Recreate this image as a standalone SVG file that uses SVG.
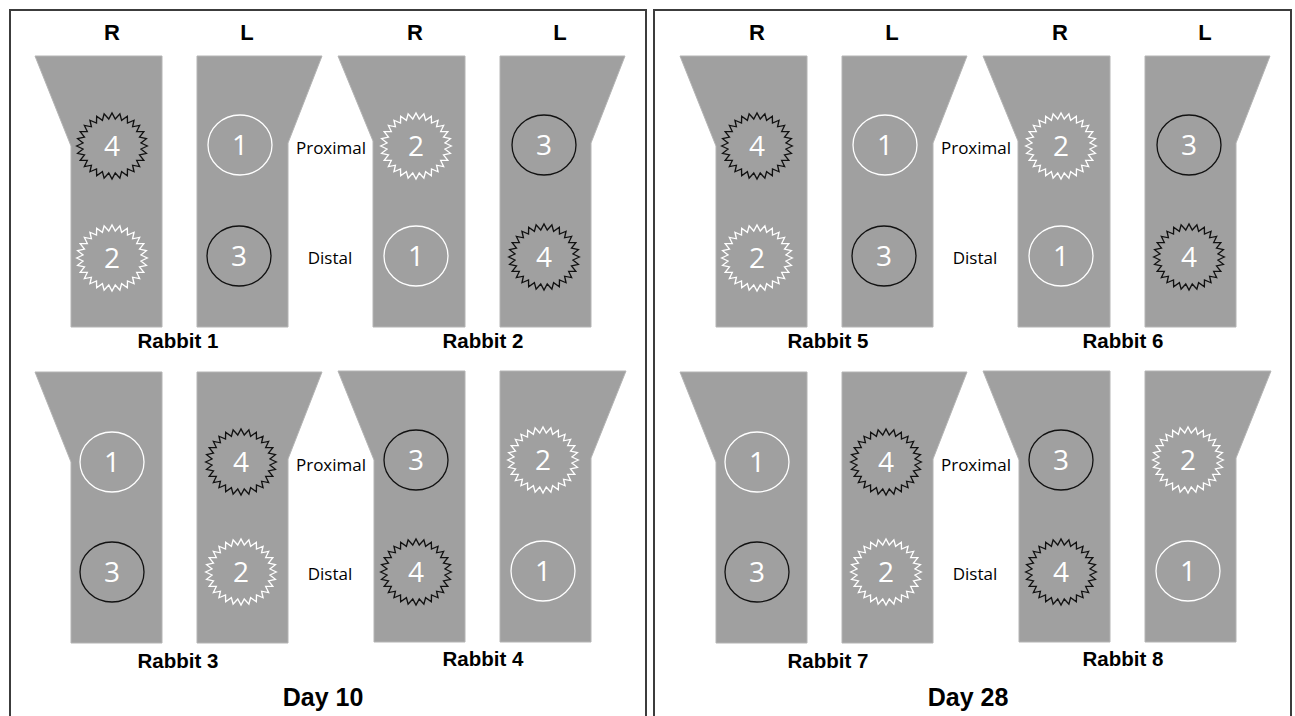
<svg xmlns="http://www.w3.org/2000/svg" xmlns:xlink="http://www.w3.org/1999/xlink" width="1295" height="716" viewBox="0 0 1295 716">
<style>
.bone{fill:#a0a0a0;stroke:#b4b4b4;stroke-width:1}
.panel{fill:none;stroke:#3c3c3c;stroke-width:2}
.cw{fill:none;stroke:#ffffff;stroke-width:1.3}
.ck{fill:none;stroke:#111111;stroke-width:1.3}
.num{font-family:"Open Sans","Liberation Sans",sans-serif;font-size:28px;fill:#ffffff;text-anchor:middle}
.side{font-family:"Liberation Sans",Arial,sans-serif;font-weight:bold;font-size:22px;fill:#000;text-anchor:middle}
.lbl{font-family:"Open Sans","Liberation Sans",sans-serif;font-size:17px;fill:#000;text-anchor:middle}
.rab{font-family:"Liberation Sans",Arial,sans-serif;font-weight:bold;font-size:20.5px;fill:#000;text-anchor:middle}
.day{font-family:"Liberation Sans",Arial,sans-serif;font-weight:bold;font-size:25px;fill:#000;text-anchor:middle}
</style>
<defs>
<path id="star" d="M34,0 L27.82,3.13 L33.15,7.57 L26.43,9.25 L30.63,14.75 L23.71,14.9 L26.58,21.2 L19.8,19.8 L21.2,26.58 L14.9,23.71 L14.75,30.63 L9.25,26.43 L7.57,33.15 L3.13,27.82 L0,34 L-3.13,27.82 L-7.57,33.15 L-9.25,26.43 L-14.75,30.63 L-14.9,23.71 L-21.2,26.58 L-19.8,19.8 L-26.58,21.2 L-23.71,14.9 L-30.63,14.75 L-26.43,9.25 L-33.15,7.57 L-27.82,3.13 L-34,0 L-27.82,-3.13 L-33.15,-7.57 L-26.43,-9.25 L-30.63,-14.75 L-23.71,-14.9 L-26.58,-21.2 L-19.8,-19.8 L-21.2,-26.58 L-14.9,-23.71 L-14.75,-30.63 L-9.25,-26.43 L-7.57,-33.15 L-3.13,-27.82 L0,-34 L3.13,-27.82 L7.57,-33.15 L9.25,-26.43 L14.75,-30.63 L14.9,-23.71 L21.2,-26.58 L19.8,-19.8 L26.58,-21.2 L23.71,-14.9 L30.63,-14.75 L26.43,-9.25 L33.15,-7.57 L27.82,-3.13 Z" transform="scale(1.04 0.97)"/>
<g id="day">
  <g id="rabbitA">
    <polygon class="bone" points="35,56 162,56 162,327 71,327 71,146"/>
    <polygon class="bone" points="197,56 322,56 288,143 288,327 197,327"/>
    <use xlink:href="#star" x="112" y="146" class="ck"/>
    <text class="num" x="112" y="156">4</text>
    <use xlink:href="#star" x="112" y="258" class="cw"/>
    <text class="num" x="112" y="268">2</text>
    <ellipse class="cw" cx="240" cy="145" rx="32" ry="30"/>
    <text class="num" x="240" y="155">1</text>
    <ellipse class="ck" cx="239" cy="256" rx="32" ry="30"/>
    <text class="num" x="239" y="266">3</text>
    <text class="rab" x="178" y="348">Rabbit 1</text>
  </g>
  <g id="rabbitB">
    <polygon class="bone" points="338,56 465,56 465,327 373,327 373,141"/>
    <polygon class="bone" points="500,56 625,56 591,143 591,327 500,327"/>
    <use xlink:href="#star" x="416" y="146" class="cw"/>
    <text class="num" x="416" y="156">2</text>
    <ellipse class="cw" cx="416" cy="256" rx="32" ry="30"/>
    <text class="num" x="416" y="266">1</text>
    <ellipse class="ck" cx="544" cy="145" rx="32" ry="30"/>
    <text class="num" x="544" y="155">3</text>
    <use xlink:href="#star" x="544" y="257" class="ck"/>
    <text class="num" x="544" y="267">4</text>
    <text class="rab" x="483" y="348">Rabbit 2</text>
  </g>
  <g id="rabbitC">
    <polygon class="bone" points="35,372 162,372 162,643 71,643 71,462"/>
    <polygon class="bone" points="197,372 322,372 288,459 288,643 197,643"/>
    <ellipse class="cw" cx="112" cy="462" rx="32" ry="30"/>
    <text class="num" x="112" y="472">1</text>
    <ellipse class="ck" cx="112" cy="572" rx="32" ry="30"/>
    <text class="num" x="112" y="582">3</text>
    <use xlink:href="#star" x="241" y="462" class="ck"/>
    <text class="num" x="241" y="472">4</text>
    <use xlink:href="#star" x="241" y="572" class="cw"/>
    <text class="num" x="241" y="582">2</text>
    <text class="rab" x="178" y="668">Rabbit 3</text>
  </g>
  <g id="rabbitD">
    <polygon class="bone" points="338,371 465,371 465,642 374,642 374,460"/>
    <polygon class="bone" points="500,371 626,371 591,458 591,642 500,642"/>
    <ellipse class="ck" cx="416" cy="460" rx="32" ry="30"/>
    <text class="num" x="416" y="470">3</text>
    <use xlink:href="#star" x="416" y="572" class="ck"/>
    <text class="num" x="416" y="582">4</text>
    <use xlink:href="#star" x="543" y="460" class="cw"/>
    <text class="num" x="543" y="470">2</text>
    <ellipse class="cw" cx="543" cy="571" rx="32" ry="30"/>
    <text class="num" x="543" y="581">1</text>
    <text class="rab" x="483" y="666">Rabbit 4</text>
  </g>
</g>
</defs>
<rect width="1295" height="716" fill="#ffffff"/>
<g id="panel-day10">
  <path class="panel" d="M10,716 V10 H646 V716"/>
  <text class="side" x="112" y="40">R</text>
  <text class="side" x="247" y="40">L</text>
  <text class="side" x="415" y="40">R</text>
  <text class="side" x="560" y="40">L</text>
  <text class="lbl" x="331" y="154">Proximal</text>
  <text class="lbl" x="330" y="264">Distal</text>
  <text class="lbl" x="331" y="471">Proximal</text>
  <text class="lbl" x="330" y="580">Distal</text>
  <g id="rabbit1-4">
    <use xlink:href="#day"/>
  </g>
  <text class="day" x="323" y="706">Day 10</text>
</g>
<g id="panel-day28">
  <path class="panel" d="M654,716 V10 H1291 V716"/>
  <text class="side" x="757" y="40">R</text>
  <text class="side" x="892" y="40">L</text>
  <text class="side" x="1060" y="40">R</text>
  <text class="side" x="1205" y="40">L</text>
  <text class="lbl" x="976" y="154">Proximal</text>
  <text class="lbl" x="975" y="264">Distal</text>
  <text class="lbl" x="976" y="471">Proximal</text>
  <text class="lbl" x="975" y="580">Distal</text>
  <g id="rabbit5-8" transform="translate(645,0)">
    <polygon class="bone" points="35,56 162,56 162,327 71,327 71,146"/>
    <polygon class="bone" points="197,56 322,56 288,143 288,327 197,327"/>
    <use xlink:href="#star" x="112" y="146" class="ck"/>
    <text class="num" x="112" y="156">4</text>
    <use xlink:href="#star" x="112" y="258" class="cw"/>
    <text class="num" x="112" y="268">2</text>
    <ellipse class="cw" cx="240" cy="145" rx="32" ry="30"/>
    <text class="num" x="240" y="155">1</text>
    <ellipse class="ck" cx="239" cy="256" rx="32" ry="30"/>
    <text class="num" x="239" y="266">3</text>
    <text class="rab" x="183" y="348">Rabbit 5</text>
    <polygon class="bone" points="338,56 465,56 465,327 373,327 373,141"/>
    <polygon class="bone" points="500,56 625,56 591,143 591,327 500,327"/>
    <use xlink:href="#star" x="416" y="146" class="cw"/>
    <text class="num" x="416" y="156">2</text>
    <ellipse class="cw" cx="416" cy="256" rx="32" ry="30"/>
    <text class="num" x="416" y="266">1</text>
    <ellipse class="ck" cx="544" cy="145" rx="32" ry="30"/>
    <text class="num" x="544" y="155">3</text>
    <use xlink:href="#star" x="544" y="257" class="ck"/>
    <text class="num" x="544" y="267">4</text>
    <text class="rab" x="478" y="348">Rabbit 6</text>
    <polygon class="bone" points="35,372 162,372 162,643 71,643 71,462"/>
    <polygon class="bone" points="197,372 322,372 288,459 288,643 197,643"/>
    <ellipse class="cw" cx="112" cy="462" rx="32" ry="30"/>
    <text class="num" x="112" y="472">1</text>
    <ellipse class="ck" cx="112" cy="572" rx="32" ry="30"/>
    <text class="num" x="112" y="582">3</text>
    <use xlink:href="#star" x="241" y="462" class="ck"/>
    <text class="num" x="241" y="472">4</text>
    <use xlink:href="#star" x="241" y="572" class="cw"/>
    <text class="num" x="241" y="582">2</text>
    <text class="rab" x="183" y="668">Rabbit 7</text>
    <polygon class="bone" points="338,371 465,371 465,642 374,642 374,460"/>
    <polygon class="bone" points="500,371 626,371 591,458 591,642 500,642"/>
    <ellipse class="ck" cx="416" cy="460" rx="32" ry="30"/>
    <text class="num" x="416" y="470">3</text>
    <use xlink:href="#star" x="416" y="572" class="ck"/>
    <text class="num" x="416" y="582">4</text>
    <use xlink:href="#star" x="543" y="460" class="cw"/>
    <text class="num" x="543" y="470">2</text>
    <ellipse class="cw" cx="543" cy="571" rx="32" ry="30"/>
    <text class="num" x="543" y="581">1</text>
    <text class="rab" x="478" y="666">Rabbit 8</text>
  </g>
  <text class="day" x="968" y="706">Day 28</text>
</g>
<g id="connectors"/>
</svg>
